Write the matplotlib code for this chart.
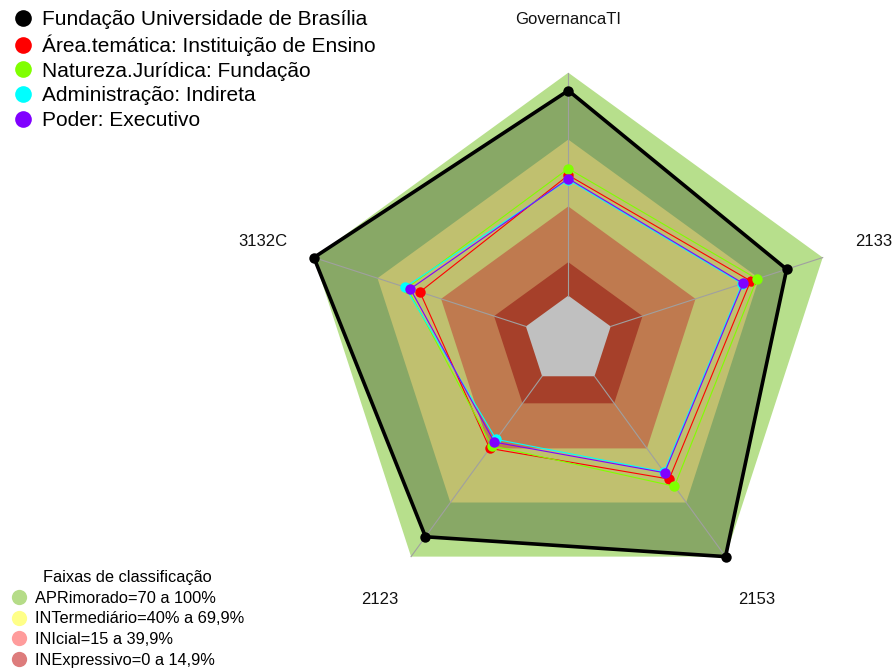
import numpy as np
import matplotlib
matplotlib.use("Agg")
import matplotlib.pyplot as plt
from matplotlib.lines import Line2D

plt.rcParams['font.family'] = ['Liberation Sans', 'DejaVu Sans']

# ---- data ----
categories = ['GovernancaTI', '2133', '2153', '2123', '3132C']
series_names = ['Fundação Universidade de Brasília',
                'Área.temática: Instituição de Ensino',
                'Natureza.Jurídica: Fundação',
                'Administração: Indireta',
                'Poder: Executivo']
unb = [92, 83, 100, 89, 100]
area = [54, 66, 57, 40, 50]
natureza = [57, 69, 61, 38.5, 56]
administracao = [52, 62, 53, 35, 57]
poder = [52.5, 62.5, 53.5, 36.5, 54.5]
series_colors = ['#000000', '#FF0000', '#80FF00', '#00FFFF', '#8000FF']

band_labels = ['APRimorado=70 a 100%', 'INTermediário=40% a 69,9%',
               'INIcial=15 a 39,9%', 'INExpressivo=0 a 14,9%']
band_limits = [100, 70, 40, 15, 0]
band_legend_colors = ['#b5dc88', '#ffff88', '#ff9c9c', '#dd7c7c']
band_fill_colors = ['#b7df8c', '#c0c06f', '#bf7a4f', '#a6402a', '#c0c0c0']
inside_unb_color = '#88a866'

# ---- geometry helpers ----
n = len(categories)
angles = np.arange(n) * 2 * np.pi / n  # clockwise from top
SEG = 5


def radius(v):
    return (1 + SEG * np.asarray(v, dtype=float) / 100.0) / (SEG + 1)


def xy(values, closed=True):
    r = radius(values)
    x = r * np.sin(angles)
    y = r * np.cos(angles)
    if closed:
        x = np.append(x, x[0])
        y = np.append(y, y[0])
    return x, y


W, H = 894, 668
fig = plt.figure(figsize=(W / 100, H / 100), dpi=100)
ax = fig.add_axes([0, 0, 1, 1])
R = 267.5
cx, cy = 568.3, 340.2
ax.set_xlim(-cx / R, (W - cx) / R)
ax.set_ylim(-(H - cy) / R, cy / R)
ax.axis('off')

# outer band (APRimorado)
x, y = xy([band_limits[0]] * n)
ax.fill(x, y, color=band_fill_colors[0], lw=0, zorder=1)
# inside UnB polygon
x, y = xy(unb)
ax.fill(x, y, color=inside_unb_color, lw=0, zorder=2)
# inner bands
for i, lim in enumerate(band_limits[1:], start=1):
    x, y = xy([lim] * n)
    ax.fill(x, y, color=band_fill_colors[i], lw=0, zorder=3 + i)

# radial axes
r0, r1 = radius(0), radius(100)
for a in angles:
    ax.plot([r0 * np.sin(a), r1 * np.sin(a)], [r0 * np.cos(a), r1 * np.cos(a)],
            color='#a0a0a0', lw=0.8, zorder=10)

# axis labels
for a, lab in zip(angles, categories):
    ax.text(1.2 * np.sin(a), 1.2 * np.cos(a), lab, ha='center', va='center',
            fontsize=12, color='#111111', zorder=20)

# series
all_series = [unb, area, natureza, administracao, poder]
for k, (vals, col) in enumerate(zip(all_series, series_colors)):
    x, y = xy(vals)
    lw = 2.6 if k == 0 else 0.8
    ax.plot(x, y, color=col, lw=lw, zorder=12 + k)
    ax.plot(x[:-1], y[:-1], 'o', color=col, ms=7.5, mew=0, zorder=12 + k)

# legend 1 (series)
h1 = [Line2D([], [], marker='o', ls='', color=c, ms=12, mew=0) for c in series_colors]
leg1 = fig.legend(h1, series_names, loc='upper left',
                  bbox_to_anchor=(12.9 / W, 1 - 10.0 / H),
                  frameon=False, fontsize=15, handlelength=1.0, handletextpad=0.38,
                  labelspacing=0.27, borderaxespad=0.0, borderpad=0.0)

# legend 2 (bands)
h2 = [Line2D([], [], marker='o', ls='', color=c, ms=11, mew=0) for c in band_legend_colors]
leg2 = fig.legend(h2, band_labels, loc='lower left',
                  bbox_to_anchor=(-4.3 / W, -14.6 / H),
                  frameon=False, fontsize=11.8, handlelength=1.0, handletextpad=0.48,
                  labelspacing=0.34, borderaxespad=0.0, borderpad=0.92,
                  title='Faixas de classificação', title_fontsize=11.8)

fig.savefig('out.png', dpi=100)
